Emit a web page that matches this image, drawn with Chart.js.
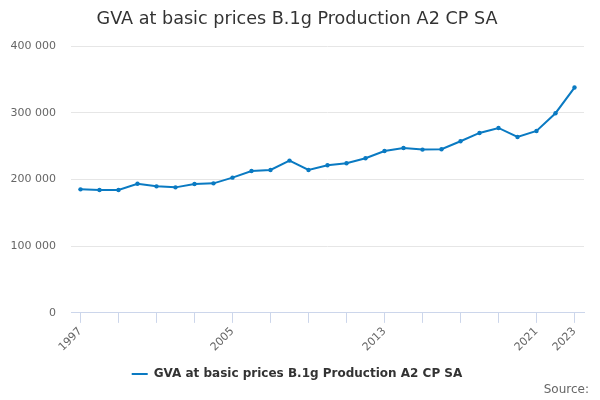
<!DOCTYPE html>
<html>
<head>
<meta charset="utf-8">
<script src="https://cdn.jsdelivr.net/npm/chart.js@4"></script>
<style>
  html, body { margin: 0; padding: 0; background: #fff; }
  #wrap { width: 600px; height: 400px; position: relative; }
</style>
</head>
<body>
<div id="wrap"><canvas id="chart"></canvas></div>
<script>
// --- data ---
const years = [1997, 1998, 1999, 2000, 2001, 2002, 2003, 2004, 2005, 2006, 2007, 2008, 2009, 2010,
               2011, 2012, 2013, 2014, 2015, 2016, 2017, 2018, 2019, 2020, 2021, 2022, 2023];
const gvaValues = [185200, 184200, 184200, 193700, 189700, 188200, 193200, 194200, 202800, 212800,
                   214300, 228300, 214300, 221300, 224300, 231800, 242800, 247300, 244800, 245300,
                   257300, 269800, 277300, 263800, 272800, 299400, 337900];
const yearLabels = [1997, 2005, 2013, 2021, 2023];
const yTicks = [0, 100000, 200000, 300000, 400000];

const seriesName = 'GVA at basic prices B.1g Production A2 CP SA';
const lineColor = '#0a7ac2';
const font = 'DejaVu Sans';

// thousands with a space, like "400 000"
const fmt = v => String(v).replace(/\B(?=(\d{3})+(?!\d))/g, ' ');

const sourcePlugin = {
    id: 'sourceText',
    afterDraw(chart) {
        const ctx = chart.ctx;
        ctx.save();
        ctx.font = `12px "${font}"`;
        ctx.fillStyle = '#666666';
        ctx.textAlign = 'right';
        ctx.textBaseline = 'middle';
        ctx.fillText('Source:', 589, 390);
        ctx.restore();
    }
};

new Chart(document.getElementById('chart'), {
    type: 'line',
    data: {
        datasets: [{
            label: seriesName,
            data: years.map((y, i) => ({ x: y, y: gvaValues[i] })),
            borderColor: lineColor,
            backgroundColor: lineColor,
            borderWidth: 2,
            pointRadius: 2.2,
            pointBorderWidth: 0,
            pointHoverRadius: 3,
            tension: 0,
        }]
    },
    options: {
        responsive: true,
        maintainAspectRatio: false,
        animation: false,
        layout: { padding: { left: 10, right: 16, top: 6, bottom: 10 } },
        plugins: {
            tooltip: { enabled: false },
            title: {
                display: true,
                text: 'GVA at basic prices B.1g Production A2 CP SA',
                color: '#333333',
                font: { family: font, size: 17.6, weight: 'normal' },
                padding: { top: 3, bottom: 16 }
            },
            legend: {
                position: 'bottom',
                labels: {
                    color: '#333333',
                    font: { family: font, size: 12, weight: 'bold' },
                    boxWidth: 16,
                    boxHeight: 2,
                    padding: 12,
                    generateLabels: chart => Chart.defaults.plugins.legend.labels.generateLabels(chart)
                        .map(l => ({ ...l, lineWidth: 0 }))
                }
            }
        },
        scales: {
            x: {
                type: 'linear',
                min: years[0] - 0.5,
                max: years[years.length - 1] + 0.5,
                afterBuildTicks: axis => {
                    axis.ticks = years.filter(y => (y - years[0]) % 2 === 0).map(v => ({ value: v }));
                },
                afterFit: axis => {
                    axis.paddingLeft = 0;
                    axis.paddingRight = 0;
                },
                ticks: {
                    autoSkip: false,
                    maxRotation: 45,
                    minRotation: 45,
                    padding: 2,
                    color: '#666666',
                    font: { family: font, size: 11 },
                    callback: v => yearLabels.includes(v) ? String(v) : ''
                },
                grid: {
                    drawOnChartArea: false,
                    drawTicks: true,
                    tickLength: 10,
                    color: '#ccd6eb'
                },
                border: { display: true, color: '#ccd6eb' }
            },
            y: {
                min: 0,
                max: 400000,
                afterBuildTicks: axis => {
                    axis.ticks = yTicks.map(v => ({ value: v }));
                },
                afterFit: axis => {
                    axis.width = 61;
                },
                ticks: {
                    padding: 15,
                    color: '#666666',
                    font: { family: font, size: 11 },
                    callback: v => fmt(v)
                },
                grid: { color: '#e6e6e6', drawTicks: false },
                border: { display: false }
            }
        }
    },
    plugins: [sourcePlugin]
});
</script>
</body>
</html>
